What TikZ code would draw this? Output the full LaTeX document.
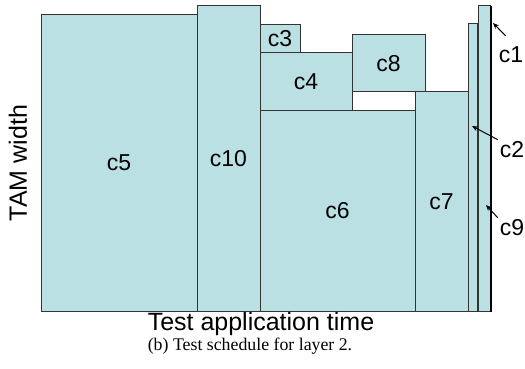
\documentclass[tikz,border=0pt]{standalone}
\usepackage{fontspec}
\setmainfont{Liberation Serif}
\setsansfont{Liberation Sans}
\usetikzlibrary{arrows.meta, positioning}
\definecolor{slot}{RGB}{187,224,227}
\tikzset{
  block/.style={draw=black!80, fill=slot, line width=1pt},
  blocklabel/.style={font=\sffamily\fontsize{23}{26}\selectfont, inner sep=2pt},
  axislabel/.style={font=\sffamily\fontsize{25}{30}\selectfont, inner sep=0pt},
  pointer/.style={-{Stealth[length=6pt,width=5pt]}, line width=1pt},
}

\begin{document}
\begin{tikzpicture}[>=Stealth, x=1pt, y=-1pt]
\useasboundingbox (0,0) rectangle (525,369);

% parameters
\def\bottom{311}   % time axis: every core ends here

% --- cores standing on the time axis ---
\foreach \name/\xa/\xb/\ya in {c5/41/197/15, c10/197/260/6, c6/260/415/110, c7/415/468/92}{
  \draw[block] (\xa,\ya) rectangle (\xb,\bottom);
  \node[blocklabel] (\name) at ({(\xa+\xb)/2},{(\ya+\bottom)/2}) {\name};
}

% --- cores stacked on top of others ---
\foreach \name/\xa/\xb/\ya/\yb in {c4/260/352/53/110, c3/260/300/25/53, c8/352/425/35/92}{
  \draw[block] (\xa,\ya) rectangle (\xb,\yb);
  \node[blocklabel] (\name) at ({(\xa+\xb)/2},{(\ya+\yb)/2}) {\name};
}

% --- narrow cores at the end of the schedule ---
\draw[block] (468,24) rectangle (477,\bottom);        % c2
\draw[block] (478,6) rectangle (490,\bottom);         % c9
\draw[fill=black] (490,6) rectangle (491.5,\bottom);  % c1

% labels with pointers
\coordinate (c1tip) at (493,23);
\coordinate (c2tip) at (472,126);
\coordinate (c9tip) at (486,205);
\node[blocklabel] (c1) at (511,55) {c1};
\node[blocklabel] (c2) at (512,150) {c2};
\node[blocklabel] (c9) at (512,228) {c9};
\draw[pointer] ([shift={(9pt,9pt)}]c1.north west) -- (c1tip);
\draw[pointer] (c2.north west) -- (c2tip);
\draw[pointer] (c9.north west) -- (c9tip);

% axes and caption
\node[axislabel, rotate=90] (ylabel) at (18,163) {TAM width};
\node[axislabel, anchor=base] (xlabel) at (261,330) {Test application time};
\node[font=\fontsize{17.8}{20}\selectfont, anchor=base] (caption) at (250,350) {(b) Test schedule for layer 2.};

\end{tikzpicture}
\end{document}
